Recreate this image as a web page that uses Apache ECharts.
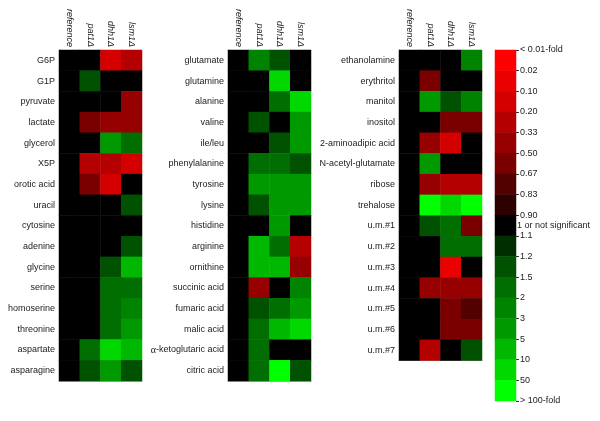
<!DOCTYPE html>
<html><head><meta charset="utf-8">
<script src="https://cdn.jsdelivr.net/npm/echarts@6/dist/echarts.min.js"></script>
<style>html,body{margin:0;padding:0;background:#fff}#c{width:600px;height:421px}</style>
</head><body><div id="c"></div>
<script>
const columns = ['reference', 'pat1\u0394', 'dhh1\u0394', 'lsm1\u0394'];
// level index per cell: 0 = < 0.01-fold (bright red) ... 8 = 1 / not significant (black) ... 16 = > 100-fold (bright green)
const rows1 = ['G6P','G1P','pyruvate','lactate','glycerol','X5P','orotic acid','uracil','cytosine','adenine','glycine','serine','homoserine','threonine','aspartate','asparagine'];
const vals1 = [[8,8,2,3],[8,10,8,8],[8,8,8,4],[8,5,4,4],[8,8,13,11],[8,3,3,2],[8,5,2,8],[8,8,8,10],[8,8,8,8],[8,8,8,10],[8,8,10,14],[8,8,11,11],[8,8,11,12],[8,8,11,13],[8,11,15,14],[8,10,13,10]];
const rows2 = ['glutamate','glutamine','alanine','valine','ile/leu','phenylalanine','tyrosine','lysine','histidine','arginine','ornithine','succinic acid','fumaric acid','malic acid','\u03b1-ketoglutaric acid','citric acid'];
const vals2 = [[8,12,10,8],[8,8,15,8],[8,8,11,15],[8,10,8,13],[8,8,10,13],[8,11,11,10],[8,13,13,13],[8,10,13,13],[8,8,13,8],[8,14,11,3],[8,14,14,4],[8,4,8,12],[8,10,11,13],[8,11,14,15],[8,11,8,8],[8,11,16,10]];
const rows3 = ['ethanolamine','erythritol','manitol','inositol','2-aminoadipic acid','N-acetyl-glutamate','ribose','trehalose','u.m.#1','u.m.#2','u.m.#3','u.m.#4','u.m.#5','u.m.#6','u.m.#7'];
const vals3 = [[8,8,8,12],[8,5,8,8],[8,13,10,12],[8,8,5,5],[8,4,2,8],[8,13,8,8],[8,4,3,3],[8,16,15,16],[8,10,11,5],[8,8,11,11],[8,8,1,8],[8,4,4,4],[8,8,5,6],[8,8,5,5],[8,3,8,10]];
const tickLabels = ['< 0.01-fold','0.02','0.10','0.20','0.33','0.50','0.67','0.83','0.90','1.1','1.2','1.5','2','3','5','10','50','> 100-fold'];
const levelColors = ['#ff0000','#eb0000','#d40000','#b40000','#960000','#7a0000','#520000','#2e0000','#000000',
                     '#002e00','#005200','#006e00','#008400','#009a00','#00b800','#00d800','#00ff00'];
const levels = levelColors.map((c, i) => i);
const midLabel = '1 or not significant';

const FONT = 'Liberation Sans, Arial, sans-serif';
const panels = [
  {rows: rows1, vals: vals1, left: 59, top: 50, height: 331},
  {rows: rows2, vals: vals2, left: 228, top: 50, height: 331},
  {rows: rows3, vals: vals3, left: 399, top: 50, height: 310.5}
];
const grid = [], xAxis = [], yAxis = [], series = [];
panels.forEach((p, k) => {
  grid.push({left: p.left, top: p.top, width: 83, height: p.height});
  xAxis.push({type: 'category', gridIndex: k, position: 'top', data: columns,
    axisLine: {show: false}, axisTick: {show: false}, splitLine: {show: false},
    axisLabel: {rotate: 90, fontSize: 9, fontStyle: 'italic', color: '#222', fontFamily: FONT, margin: 3, interval: 0}});
  xAxis.push({type: 'category', gridIndex: k, position: 'bottom', data: columns,
    axisLine: {show: true, lineStyle: {color: '#aaa', width: 1}}, axisTick: {show: false}, axisLabel: {show: false}});
  yAxis.push({type: 'category', gridIndex: k, data: p.rows, inverse: true,
    axisLine: {show: true, lineStyle: {color: '#aaa', width: 1}}, axisTick: {show: false}, splitLine: {show: false},
    axisLabel: {fontSize: 9, color: '#222', fontFamily: FONT, margin: 4, interval: 0,
      formatter: v => v.indexOf('\u03b1') === 0 ? '{g|\u03b1}' + v.slice(1) : v,
      rich: {g: {fontFamily: 'Liberation Serif, serif', fontSize: 10, color: '#222'}}}});
  const data = [];
  p.vals.forEach((r, yi) => r.forEach((v, xi) => data.push([xi, yi, v])));
  series.push({type: 'heatmap', xAxisIndex: 2 * k, yAxisIndex: k, data: data, itemStyle: {borderWidth: 0}, emphasis: {disabled: true}});
});
// legend colour bar
const lk = panels.length;
grid.push({left: 495, top: 50, width: 21, height: 351});
xAxis.push({type: 'category', gridIndex: lk, data: ['bar'], show: false});
yAxis.push({type: 'category', gridIndex: lk, data: levels, inverse: true, position: 'right',
  axisLine: {show: false}, axisTick: {show: false},
  axisLabel: {fontSize: 9, color: '#222', fontFamily: FONT, margin: 1, interval: 0,
    formatter: (v, i) => i === 8 ? midLabel : ''}});
yAxis.push({type: 'value', gridIndex: lk, min: 0, max: tickLabels.length - 1, interval: 1, inverse: true, position: 'right',
  axisLine: {show: false}, splitLine: {show: false},
  axisTick: {show: true, length: 3, lineStyle: {color: '#333'}},
  axisLabel: {fontSize: 9, color: '#222', fontFamily: FONT, margin: 4, formatter: v => tickLabels[v] || ''}});
series.push({type: 'heatmap', xAxisIndex: 2 * lk, yAxisIndex: lk, data: levels.map(i => [0, i, i]), emphasis: {disabled: true}});

const chart = echarts.init(document.getElementById('c'), null, {renderer: 'canvas'});
chart.setOption({
  animation: false,
  backgroundColor: '#fff',
  textStyle: {fontFamily: FONT},
  grid: grid, xAxis: xAxis, yAxis: yAxis, series: series,
  visualMap: {type: 'piecewise', show: false, seriesIndex: series.map((s, i) => i), dimension: 2,
    pieces: levelColors.map((c, i) => ({value: i, color: c}))}
});
</script></body></html>
